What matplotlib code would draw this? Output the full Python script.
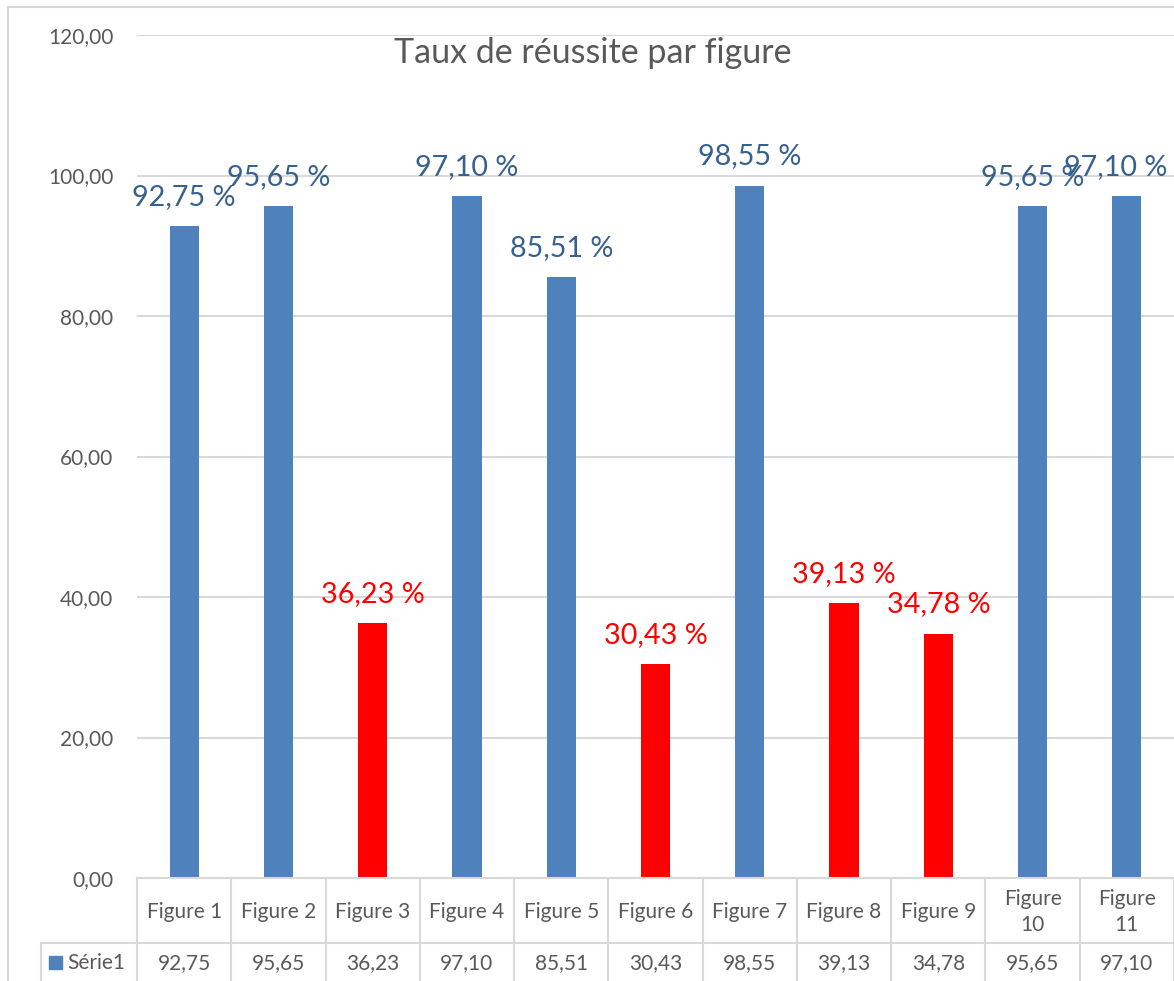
import matplotlib
matplotlib.use("Agg")
import matplotlib.pyplot as plt
from matplotlib.patches import Rectangle
from matplotlib.lines import Line2D

# Data
categories = ["Figure 1", "Figure 2", "Figure 3", "Figure 4", "Figure 5", "Figure 6",
              "Figure 7", "Figure 8", "Figure 9", "Figure 10", "Figure 11"]
header_labels = ["Figure 1", "Figure 2", "Figure 3", "Figure 4", "Figure 5", "Figure 6",
                 "Figure 7", "Figure 8", "Figure 9", "Figure\n10", "Figure\n11"]
values = [92.75, 95.65, 36.23, 97.10, 85.51, 30.43, 98.55, 39.13, 34.78, 95.65, 97.10]
series_name = "Série1"
title = "Taux de réussite par figure"
yticks = [0, 20, 40, 60, 80, 100, 120]
threshold = 50

BLUE = "#4F81BD"
RED = "#FF0000"
BLUE_LABEL = "#36608F"
GREY_TEXT = "#595959"
GRID = "#D9D9D9"

def fmt(v):
    return f"{v:.2f}".replace(".", ",")

plt.rcParams["font.family"] = ["Lato", "DejaVu Sans"]

W, H = 1174, 981
fig = plt.figure(figsize=(W / 100, H / 100), dpi=100)

def fx(px):
    return px / W

def fy(py):
    return 1 - py / H

left, right, top, bottom = 137, 1174, 35, 878
ax = fig.add_axes([fx(left), fy(bottom), fx(right - left), (bottom - top) / H])

colors = [RED if v < threshold else BLUE for v in values]
x = list(range(len(values)))
ax.bar(x, values, width=0.31, color=colors, zorder=3)

ax.set_xlim(-0.5, len(values) - 0.5)
ax.set_ylim(0, 120)
ax.set_yticks(yticks)
ax.set_yticklabels([fmt(t) for t in yticks], fontsize=15, color=GREY_TEXT)
ax.tick_params(axis="y", length=0, pad=17)
ax.set_xticks([])
for s in ax.spines.values():
    s.set_visible(False)
for t in yticks[1:]:
    ax.axhline(t, color=GRID, lw=1.5, zorder=1)

# Value labels above bars
x_shift = [0] * len(values)
x_shift[-1] = -8
for i, v in enumerate(values):
    c = RED if v < threshold else BLUE_LABEL
    ax.annotate(f"{fmt(v)} %", (i, v), xytext=(x_shift[i], 21), textcoords="offset points",
                ha="center", va="center", fontsize=20.7, color=c, zorder=4,
                annotation_clip=False)

fig.text(fx(593), fy(53), title, ha="center", va="center", fontsize=24.5, color=GREY_TEXT)

# Outer chart border
fig.add_artist(Line2D([fx(8), fx(8)], [fy(7), 0], color=GRID, lw=1.5))
fig.add_artist(Line2D([fx(8), 1], [fy(7), fy(7)], color=GRID, lw=1.5))

# Data table
col_w = (right - left) / len(values)
row_sep = 943
fig.add_artist(Line2D([fx(left), 1], [fy(bottom), fy(bottom)], color=GRID, lw=1.5))
fig.add_artist(Line2D([fx(41), 1], [fy(row_sep), fy(row_sep)], color=GRID, lw=1.5))
fig.add_artist(Line2D([fx(41), fx(41)], [fy(row_sep), 0], color=GRID, lw=1.5))
for i in range(len(values) + 1):
    xb = left + i * col_w
    fig.add_artist(Line2D([fx(xb), fx(xb)], [fy(bottom), 0], color=GRID, lw=1.5))
for i, (lab, v) in enumerate(zip(header_labels, values)):
    xc = left + (i + 0.5) * col_w
    fig.text(fx(xc), fy(912), lab, ha="center", va="center",
             fontsize=15, color=GREY_TEXT, linespacing=1.35)
    fig.text(fx(xc), fy(963), fmt(v), ha="center", va="center", fontsize=15, color=GREY_TEXT)

fig.add_artist(Rectangle((fx(49), fy(969)), fx(13), 13 / H, color=BLUE))
fig.text(fx(67), fy(963), series_name, ha="left", va="center", fontsize=15, color=GREY_TEXT)

fig.savefig("out.png", dpi=100)
